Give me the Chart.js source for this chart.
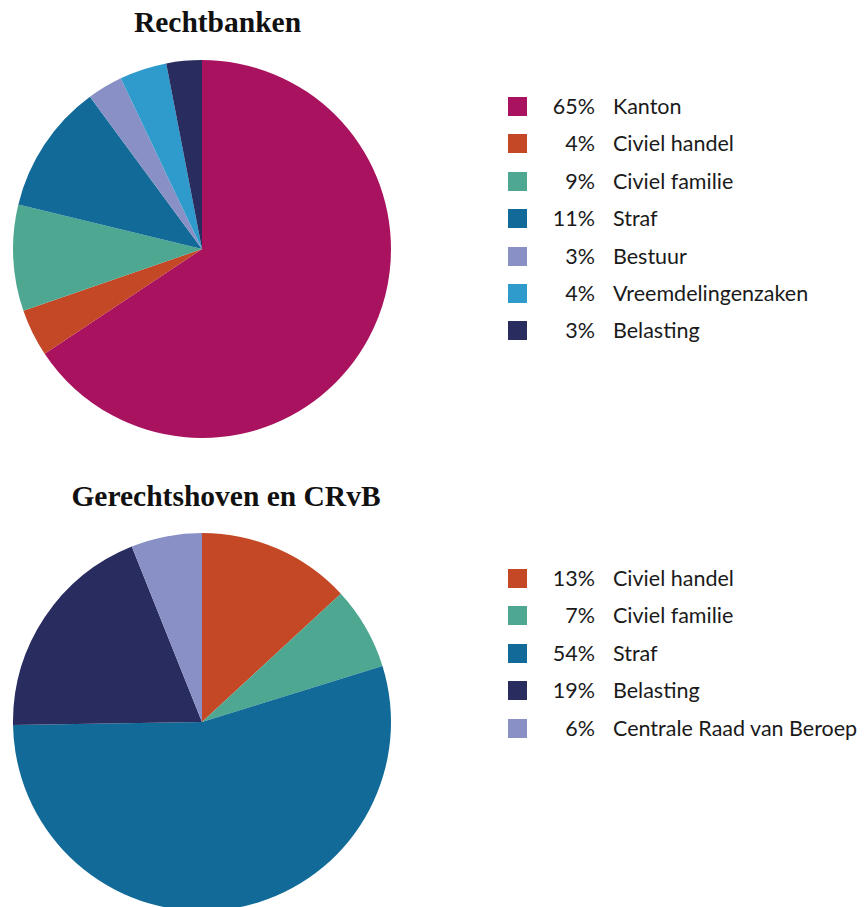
<!DOCTYPE html>
<html>
<head>
<meta charset="utf-8">
<script src="https://cdn.jsdelivr.net/npm/chart.js@4.4.1/dist/chart.umd.min.js"></script>
<style>
  html, body { margin: 0; padding: 0; background: #fff; overflow: hidden; }
  body { width: 864px; height: 907px; position: relative; font-family: Lato, 'Noto Sans', sans-serif; color: #1a1a1a; }
  .title { position: absolute; font-family: 'Liberation Serif', 'DejaVu Serif', serif; font-weight: bold; font-size: 29.5px; text-align: center; white-space: nowrap; color: #111; }
  .pie { position: absolute; width: 378px; height: 378px; }
  .legend { position: absolute; left: 508px; }
  .row { position: relative; height: 37.4px; font-size: 21.5px; line-height: 19px; white-space: nowrap; }
  .sw { position: absolute; left: 0; top: 0; width: 19px; height: 19px; }
  .pct { position: absolute; left: 20px; width: 67px; text-align: right; top: 0; }
  .lbl { position: absolute; left: 105px; top: 0; }
</style>
</head>
<body>
<div class="title" style="left:0;width:435px;top:6px;">Rechtbanken</div>
<div class="pie" style="left:13px;top:60px;"><canvas id="pie-rechtbanken"></canvas></div>
<div class="legend" id="legend-rechtbanken" style="top:97px;"></div>

<div class="title" style="left:0;width:452px;top:480px;">Gerechtshoven en CRvB</div>
<div class="pie" style="left:13px;top:533px;"><canvas id="pie-hoven"></canvas></div>
<div class="legend" id="legend-hoven" style="top:569px;"></div>

<script>
const rbLabels = ['Kanton', 'Civiel handel', 'Civiel familie', 'Straf', 'Bestuur', 'Vreemdelingenzaken', 'Belasting'];
const rbValues = [65, 4, 9, 11, 3, 4, 3];
const rbColors = ['#a8125f', '#c44826', '#4ea891', '#116a97', '#8890c5', '#2e9bcc', '#282c5f'];

const hvLabels = ['Civiel handel', 'Civiel familie', 'Straf', 'Belasting', 'Centrale Raad van Beroep'];
const hvValues = [13, 7, 54, 19, 6];
const hvColors = ['#c44826', '#4ea891', '#116a97', '#282c5f', '#8890c5'];

function buildLegend(id, labels, values, colors) {
    const el = document.getElementById(id);
    labels.forEach((label, i) => {
        const row = document.createElement('div');
        row.className = 'row';
        row.innerHTML =
            '<span class="sw" style="background:' + colors[i] + '"></span>' +
            '<span class="pct">' + values[i] + '%</span>' +
            '<span class="lbl">' + label + '</span>';
        el.appendChild(row);
    });
}

function buildPie(id, labels, values, colors) {
    return new Chart(document.getElementById(id), {
        type: 'pie',
        data: {
            labels: labels,
            datasets: [{
                data: values,
                backgroundColor: colors,
                borderWidth: 0,
            }],
        },
        options: {
            responsive: true,
            maintainAspectRatio: false,
            animation: false,
            layout: { padding: 0 },
            plugins: {
                legend: { display: false },
                tooltip: { enabled: false },
            },
        },
    });
}

buildPie('pie-rechtbanken', rbLabels, rbValues, rbColors);
buildPie('pie-hoven', hvLabels, hvValues, hvColors);
buildLegend('legend-rechtbanken', rbLabels, rbValues, rbColors);
buildLegend('legend-hoven', hvLabels, hvValues, hvColors);
</script>
</body>
</html>
